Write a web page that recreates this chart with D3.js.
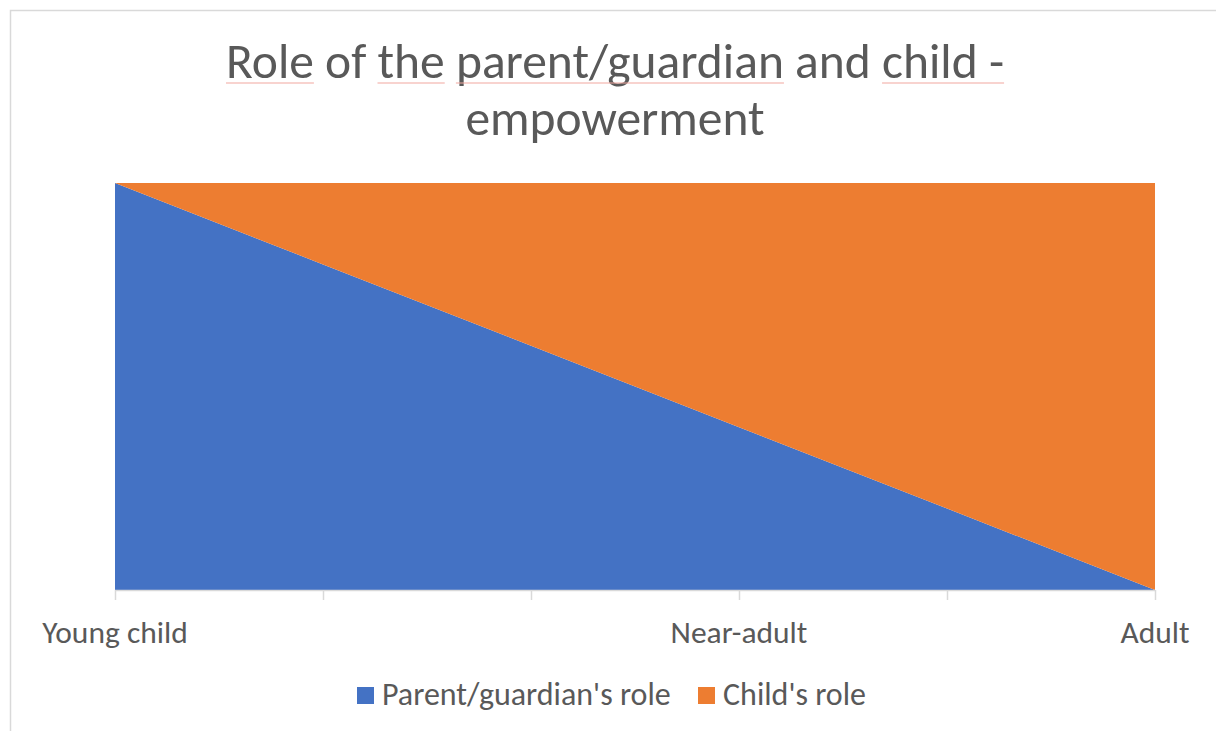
<!DOCTYPE html>
<html><head><meta charset="utf-8">
<script src="https://cdn.jsdelivr.net/npm/d3@7"></script>
<style>body{margin:0;background:#fff}svg{display:block}text{font-family:Carlito,Lato,"Open Sans",sans-serif;fill:#595959}</style>
</head><body><svg id="c" width="1216" height="731"></svg>
<script>
const categories = ["Young child", "", "", "Near-adult", "", "Adult"];
const parentRole = [100, 80, 60, 40, 20, 0];
const childRole = [0, 20, 40, 60, 80, 100];
const seriesNames = ["Parent/guardian's role", "Child's role"];
const colors = ["#4472C4", "#ED7D31"];
const titleLines = ["Role of the parent/guardian and child -", "empowerment"];

const svg = d3.select("#c");
const W = 1216, H = 731;
const m = {left:115, right:1155, top:183, bottom:590};

svg.append("rect").attr("x",10.5).attr("y",10.5).attr("width",W+20).attr("height",H+20)
  .attr("fill","none").attr("stroke","#d9d9d9").attr("stroke-width",1.5);

const x = d3.scalePoint().domain(d3.range(categories.length)).range([m.left, m.right]);
const y = d3.scaleLinear().domain([0,100]).range([m.bottom, m.top]);

const data = categories.map((c,i)=>({i, parent:parentRole[i], child:childRole[i]}));
const stack = d3.stack().keys(["parent","child"])(data);
const area = d3.area().x(d=>x(d.data.i)).y0(d=>y(d[0])).y1(d=>y(d[1]));
svg.append("g").selectAll("path").data(stack).join("path")
  .attr("d",area).attr("fill",(d,i)=>colors[i]);

const ax = svg.append("g").attr("transform",`translate(0,${m.bottom})`)
  .call(d3.axisBottom(x).tickSize(10).tickFormat(()=>""));
ax.select(".domain").attr("stroke","#d9d9d9").attr("stroke-width",1.5).attr("d",`M${m.left},0.5H${m.right}`);
ax.selectAll(".tick line").attr("stroke","#d9d9d9").attr("stroke-width",1.5);
svg.append("g").selectAll("text").data(categories.map((c,i)=>({c,i})).filter(d=>d.c))
  .join("text").attr("x",d=>x(d.i)).attr("y",643).attr("text-anchor","middle")
  .attr("font-size",31.5).text(d=>d.c);

const t = svg.append("g");
titleLines.forEach((l,k)=>{
  t.append("text").attr("class","tl"+k).attr("x",615).attr("y",78+57*k).attr("text-anchor","middle")
   .attr("font-size",49.5).text(l);
});
const t0 = t.select(".tl0").node();
const line = titleLines[0];
const words = ["Role","the","parent/guardian","child -"];
const bb = t0.getBBox();
words.forEach(w=>{
  const idx = line.indexOf(w);
  const sx = bb.x + t0.getSubStringLength(0, idx);
  const wl = t0.getSubStringLength(idx, w.length);
  t.append("line").attr("x1",sx).attr("x2",sx+wl).attr("y1",83).attr("y2",83)
    .attr("stroke","#f2a8a0").attr("stroke-width",1.2);
});

const lg = svg.append("g");
const items = [{x:357},{x:698}];
seriesNames.forEach((n,i)=>{
  lg.append("rect").attr("x",items[i].x).attr("y",687).attr("width",17).attr("height",17).attr("fill",colors[i]);
  lg.append("text").attr("x",items[i].x+25).attr("y",705).attr("font-size",32).text(n);
});
</script></body></html>
